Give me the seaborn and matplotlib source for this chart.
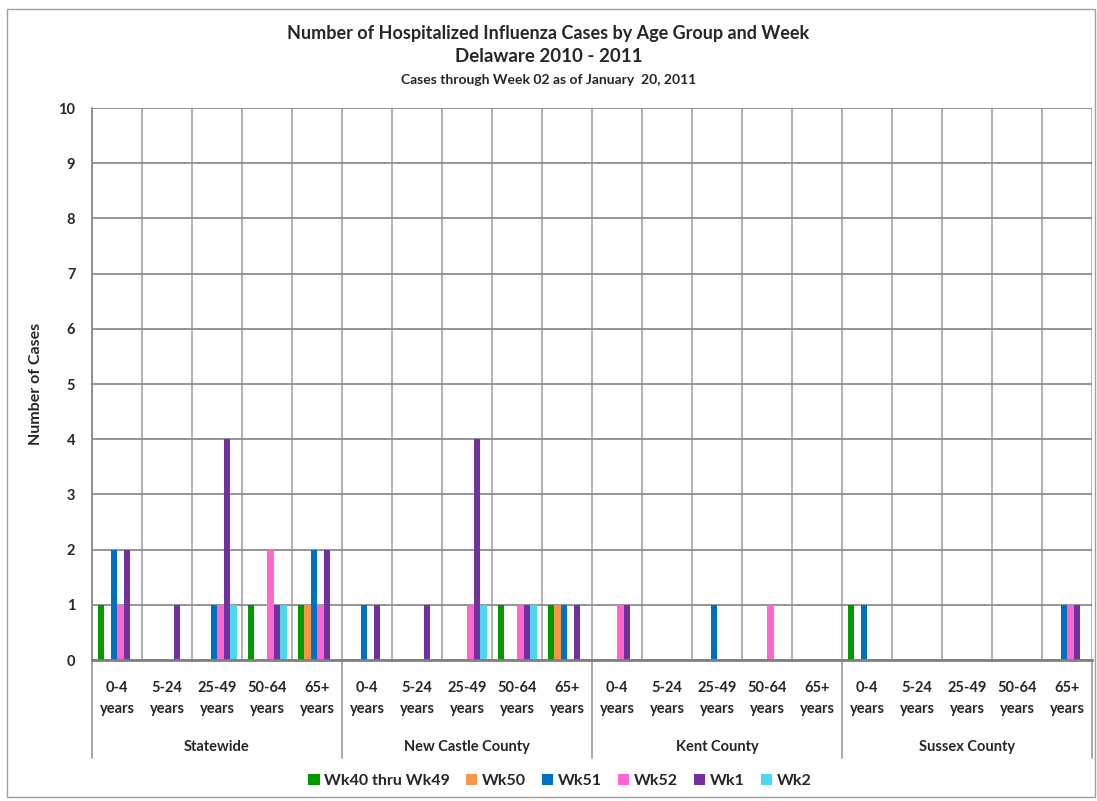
import numpy as np
import pandas as pd
import matplotlib
matplotlib.use("Agg")
import matplotlib.pyplot as plt
import matplotlib.transforms as mtransforms
from matplotlib.lines import Line2D
from matplotlib.patches import Rectangle
import seaborn as sns

# ---------------- data ----------------
regions = ["Statewide", "New Castle County", "Kent County", "Sussex County"]
ages = ["0-4\nyears", "5-24\nyears", "25-49\nyears", "50-64\nyears", "65+\nyears"]
series = ["Wk40 thru Wk49", "Wk50", "Wk51", "Wk52", "Wk1", "Wk2"]
colors = ["#009900", "#F79646", "#0070C0", "#FF66CC", "#7030A0", "#4DD7EC"]

# values per series, 20 categories (region x age)
wk40_49 = [1, 0, 0, 1, 1,   0, 0, 0, 1, 1,   0, 0, 0, 0, 0,   1, 0, 0, 0, 0]
wk50    = [0, 0, 0, 0, 1,   0, 0, 0, 0, 1,   0, 0, 0, 0, 0,   0, 0, 0, 0, 0]
wk51    = [2, 0, 1, 0, 2,   1, 0, 0, 0, 1,   0, 0, 1, 0, 0,   1, 0, 0, 0, 1]
wk52    = [1, 0, 1, 2, 1,   0, 0, 1, 1, 0,   1, 0, 0, 1, 0,   0, 0, 0, 0, 1]
wk1     = [2, 1, 4, 1, 2,   1, 1, 4, 1, 1,   1, 0, 0, 0, 0,   0, 0, 0, 0, 1]
wk2     = [0, 0, 1, 1, 0,   0, 0, 1, 1, 0,   0, 0, 0, 0, 0,   0, 0, 0, 0, 0]

all_vals = [wk40_49, wk50, wk51, wk52, wk1, wk2]
cats = [f"{r}|{a}" for r in regions for a in ages]
rows = []
for s, vals in zip(series, all_vals):
    for c, v in zip(cats, vals):
        rows.append({"cat": c, "series": s, "value": v})
df = pd.DataFrame(rows)

# ---------------- plot ----------------
sns.set_theme(style="white")
plt.rcParams["font.family"] = ["Lato", "DejaVu Sans"]
plt.rcParams["font.weight"] = "bold"

fig = plt.figure(figsize=(10.97, 8.01), dpi=100)
ax = fig.add_axes([92 / 1097, 1 - 660 / 801, 1000 / 1097, 552 / 801])

sns.barplot(data=df, x="cat", y="value", hue="series", order=cats,
            hue_order=series, palette=colors, saturation=1, width=0.78,
            linewidth=0, ax=ax, errorbar=None)

ax.set_ylim(0, 10)
ax.set_xlim(-0.5, len(cats) - 0.5)
ax.set_yticks(range(0, 11))
ax.set_yticklabels([str(i) for i in range(0, 11)], fontsize=10.5, fontweight="bold")
ax.set_xticks(range(len(cats)))
ax.set_xticklabels([c.split("|")[1] for c in cats], fontsize=10.5, fontweight="bold",
                   linespacing=1.65)
ax.tick_params(axis="x", length=0, pad=15)
ax.tick_params(axis="y", length=5, width=1, color="#888888", direction="out", pad=7)
ax.set_xlabel("")
ax.set_ylabel("Number of Cases", fontsize=11.5, fontweight="bold", labelpad=11)

# grid
ax.set_xticks(np.arange(-0.5, len(cats), 1), minor=True)
ax.tick_params(axis="x", which="minor", length=0)
ax.grid(True, axis="y", which="major", color="#8c8c8c", linewidth=1.3)
ax.grid(True, axis="x", which="minor", color="#ababab", linewidth=1.3)
ax.set_axisbelow(True)
for sp in ["top", "right"]:
    ax.spines[sp].set_visible(False)
ax.spines["left"].set_color("#888888")
ax.spines["left"].set_linewidth(1.3)
ax.spines["bottom"].set_color("#808080")
ax.spines["bottom"].set_linewidth(2)

# multi-level axis: group separators and labels
trans = mtransforms.blended_transform_factory(ax.transData, ax.transAxes)
for b in [-0.5, 4.5, 9.5, 14.5, 19.5]:
    ax.add_line(Line2D([b, b], [0, -98 / 552], transform=trans, color="#a0a0a0",
                       linewidth=1.3, clip_on=False))
for i, r in enumerate(regions):
    ax.text(i * 5 + 2, -87 / 552, r, transform=trans, ha="center", va="center",
            fontsize=10.5, fontweight="bold")

# legend
leg = ax.legend(loc="center", bbox_to_anchor=(0.468, -121 / 552), ncol=6,
                frameon=False, fontsize=11.5, handlelength=0.7, handleheight=0.7,
                handletextpad=0.3, columnspacing=1.0)
for t in leg.get_texts():
    t.set_fontweight("bold")

# titles
fig.text(0.5, 1 - 33 / 801, "Number of Hospitalized Influenza Cases by Age Group and Week",
         ha="center", va="center", fontsize=13, fontweight="bold")
fig.text(0.5, 1 - 57 / 801, "Delaware 2010 - 2011", ha="center", va="center",
         fontsize=13.5, fontweight="bold")
fig.text(0.5, 1 - 80 / 801, "Cases through Week 02 as of January  20, 2011",
         ha="center", va="center", fontsize=10, fontweight="bold")

# outer chart border
fig.patches.append(Rectangle((7 / 1097, 4 / 801), 1088 / 1097, 788 / 801,
                             transform=fig.transFigure, fill=False,
                             edgecolor="#a0a0a0", linewidth=1))

fig.savefig("out.png", dpi=100)
